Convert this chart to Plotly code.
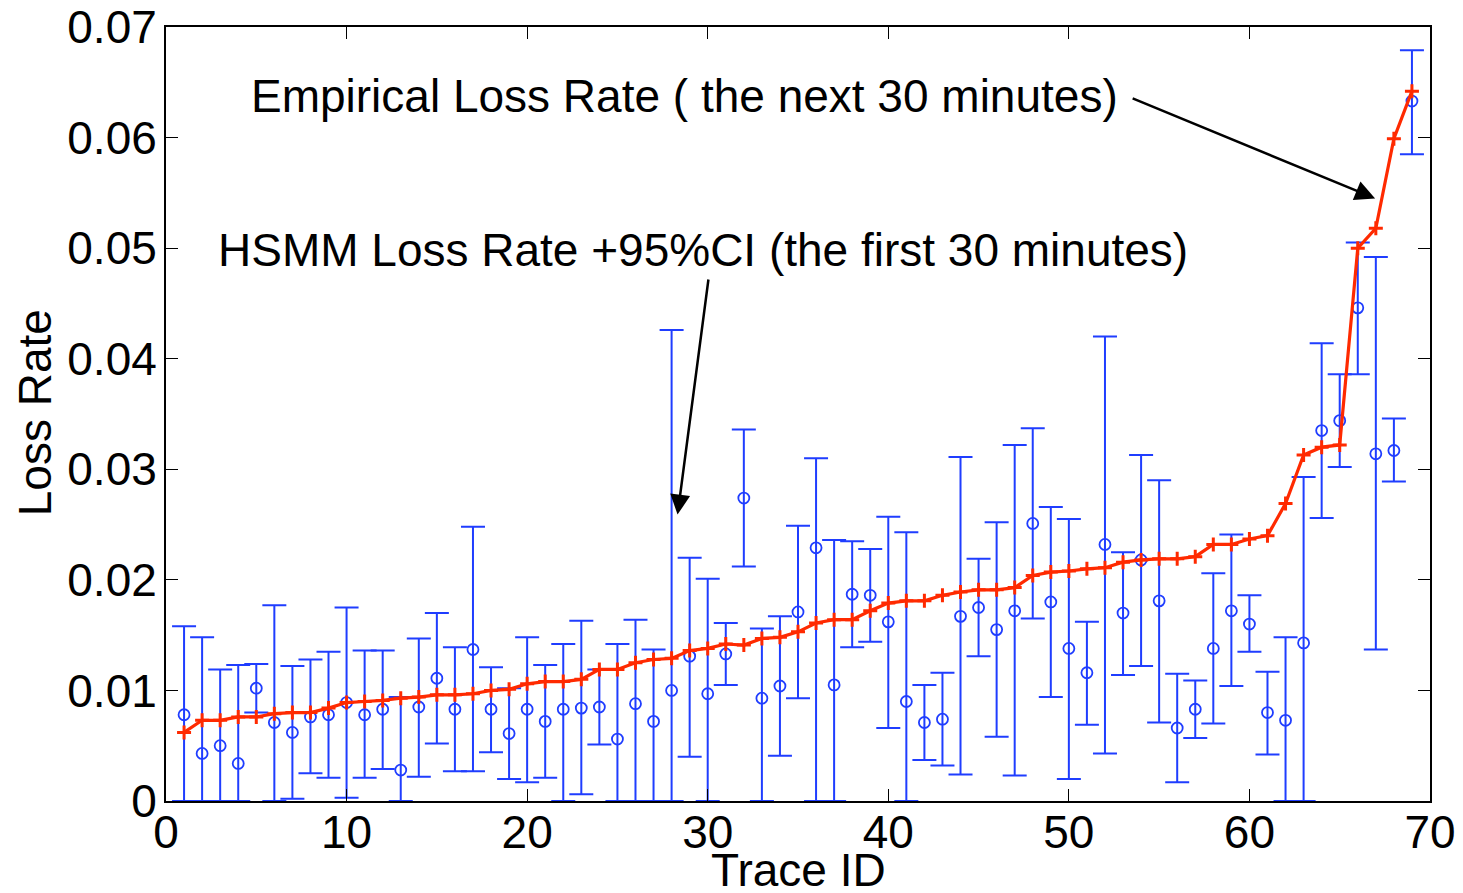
import numpy as np
import plotly.graph_objects as go

trace_id = list(range(1, 70))
empirical = [0.0078, 0.0043, 0.0050, 0.0034, 0.0102, 0.0071, 0.0062, 0.0076, 0.0078, 0.0089,
             0.0078, 0.0083, 0.0028, 0.0085, 0.0111, 0.0083, 0.0137, 0.0083, 0.0061, 0.0083,
             0.0072, 0.0083, 0.0084, 0.0085, 0.0056, 0.0088, 0.0072, 0.0100, 0.0131, 0.0097,
             0.0133, 0.0274, 0.0093, 0.0104, 0.0171, 0.0229, 0.0105, 0.0187, 0.0186, 0.0162,
             0.0090, 0.0071, 0.0074, 0.0167, 0.0175, 0.0155, 0.0172, 0.0251, 0.0180, 0.0138,
             0.0116, 0.0232, 0.0170, 0.0218, 0.0181, 0.0066, 0.0083, 0.0138, 0.0172, 0.0160,
             0.0080, 0.0073, 0.0143, 0.0335, 0.0344, 0.0446, 0.0314, 0.0317, 0.0633]
ci_upper = [0.0158, 0.0148, 0.0119, 0.0123, 0.0124, 0.0177, 0.0122, 0.0128, 0.0135, 0.0175,
            0.0136, 0.0136, 0.0094, 0.0147, 0.0170, 0.0139, 0.0248, 0.0121, 0.0102, 0.0148,
            0.0123, 0.0142, 0.0163, 0.0119, 0.0142, 0.0164, 0.0137, 0.0426, 0.0220, 0.0201,
            0.0161, 0.0336, 0.0156, 0.0167, 0.0249, 0.0310, 0.0236, 0.0235, 0.0228, 0.0257,
            0.0243, 0.0105, 0.0116, 0.0311, 0.0219, 0.0252, 0.0322, 0.0337, 0.0266, 0.0255,
            0.0162, 0.0420, 0.0225, 0.0313, 0.0290, 0.0115, 0.0109, 0.0206, 0.0241, 0.0186,
            0.0117, 0.0148, 0.0293, 0.0414, 0.0386, 0.0505, 0.0492, 0.0346, 0.0679]
ci_lower = [0.0, 0.0, 0.0, 0.0, 0.0080, 0.0, 0.0002, 0.0025, 0.0021, 0.0003,
            0.0021, 0.0029, 0.0, 0.0022, 0.0052, 0.0027, 0.0027, 0.0044, 0.0020, 0.0017,
            0.0021, 0.0, 0.0006, 0.0051, 0.0, 0.0, 0.0, 0.0, 0.0040, 0.0,
            0.0105, 0.0212, 0.0, 0.0041, 0.0093, 0.0, 0.0, 0.0139, 0.0144, 0.0066,
            0.0, 0.0037, 0.0032, 0.0024, 0.0131, 0.0058, 0.0023, 0.0165, 0.0094, 0.0020,
            0.0069, 0.0043, 0.0114, 0.0122, 0.0071, 0.0017, 0.0057, 0.0070, 0.0104, 0.0135,
            0.0042, 0.0, 0.0, 0.0256, 0.0302, 0.0386, 0.0137, 0.0289, 0.0585]
hsmm = [0.0062, 0.0073, 0.0073, 0.0076, 0.0076, 0.0079, 0.0080, 0.0080, 0.0084, 0.0089,
        0.0090, 0.0091, 0.0093, 0.0094, 0.0096, 0.0096, 0.0097, 0.0100, 0.0101, 0.0106,
        0.0108, 0.0108, 0.0110, 0.0119, 0.0119, 0.0125, 0.0128, 0.0129, 0.0136, 0.0138,
        0.0142, 0.0141, 0.0147, 0.0148, 0.0153, 0.0161, 0.0164, 0.0164, 0.0172, 0.0179,
        0.0181, 0.0181, 0.0186, 0.0189, 0.0191, 0.0191, 0.0193, 0.0204, 0.0207, 0.0208,
        0.0210, 0.0211, 0.0216, 0.0218, 0.0219, 0.0219, 0.0221, 0.0232, 0.0232, 0.0237,
        0.0240, 0.0269, 0.0313, 0.0320, 0.0322, 0.0500, 0.0518, 0.0599, 0.0642]

x_ticks = [0, 10, 20, 30, 40, 50, 60, 70]
y_ticks = [0, 0.01, 0.02, 0.03, 0.04, 0.05, 0.06, 0.07]
y_tick_text = ["0", "0.01", "0.02", "0.03", "0.04", "0.05", "0.06", "0.07"]

FONT = "Liberation Sans, Arial, Helvetica, sans-serif"
BLUE = "#1f3dff"
RED = "#ff2a00"

emp = np.array(empirical)
up = np.array(ci_upper) - emp
lo = emp - np.array(ci_lower)

fig = go.Figure()
fig.add_trace(go.Scatter(
    x=trace_id, y=empirical, mode="markers",
    marker=dict(symbol="circle-open", size=11, color=BLUE, line=dict(width=1.8, color=BLUE)),
    error_y=dict(type="data", symmetric=False, array=up, arrayminus=lo,
                 color=BLUE, thickness=2, width=12),
    showlegend=False, cliponaxis=True,
))
fig.add_trace(go.Scatter(
    x=trace_id, y=hsmm, mode="lines+markers",
    line=dict(color=RED, width=3.2),
    marker=dict(symbol="cross-thin", size=10, color=RED, line=dict(width=3, color=RED)),
    showlegend=False,
))

axis_common = dict(
    showline=True, linecolor="black", linewidth=2, mirror="ticks",
    ticks="inside", ticklen=12, tickwidth=1.2, tickcolor="black",
    showgrid=False, zeroline=False, automargin=False,
    tickfont=dict(family=FONT, size=46, color="black"),
)
fig.update_xaxes(range=[0, 70], tickvals=x_ticks, ticklabelstandoff=-10, **axis_common)
fig.update_yaxes(range=[0, 0.07], tickvals=y_ticks, ticktext=y_tick_text, ticklabelstandoff=-2, **axis_common)

text_font = dict(family=FONT, size=46, color="black")
fig.add_annotation(x=4.59, y=0.0638, xref="x", yref="y", text="Empirical Loss Rate ( the next 30 minutes)",
                   showarrow=False, xanchor="left", yanchor="middle", font=text_font)
fig.add_annotation(x=2.77, y=0.0498, xref="x", yref="y", text="HSMM Loss Rate +95%CI (the first 30 minutes)",
                   showarrow=False, xanchor="left", yanchor="middle", font=text_font)
# arrows
fig.add_annotation(x=66.96, y=0.0545, xref="x", yref="y", ax=53.45, ay=0.0636, axref="x", ayref="y",
                   text="", showarrow=True, arrowhead=2, arrowsize=1.6, arrowwidth=2.5, arrowcolor="black")
fig.add_annotation(x=28.33, y=0.0259, xref="x", yref="y", ax=30.05, ay=0.0473, axref="x", ayref="y",
                   text="", showarrow=True, arrowhead=2, arrowsize=1.6, arrowwidth=2.5, arrowcolor="black")
# axis titles
fig.add_annotation(x=0.5, y=-0.089, xref="paper", yref="paper", text="Trace ID", showarrow=False,
                   xanchor="center", yanchor="middle", font=text_font)
fig.add_annotation(x=-0.1036, y=0.501, xref="paper", yref="paper", text="Loss Rate", showarrow=False,
                   textangle=-90, xanchor="center", yanchor="middle", font=text_font)

fig.update_layout(
    width=1463, height=893,
    margin=dict(l=166, r=33, t=27, b=92, autoexpand=False),
    plot_bgcolor="white", paper_bgcolor="white",
    font=dict(family=FONT, color="black"),
)
fig.write_html("out.html")
